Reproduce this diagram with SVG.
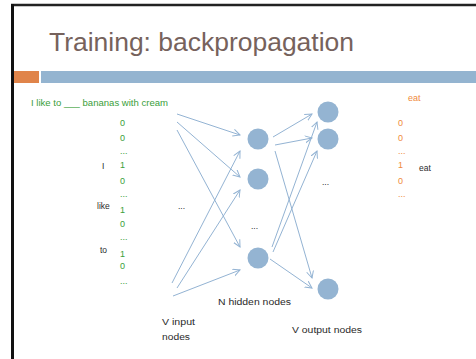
<svg xmlns="http://www.w3.org/2000/svg" width="476" height="359" viewBox="0 0 476 359">
<style>
text{font-family:"Liberation Sans","DejaVu Sans",sans-serif}
.g{fill:#3a9e3a;font-size:9px}
.o{fill:#f08a3c;font-size:9px}
.k{fill:#2a2a2a;font-size:8.5px}
.n{fill:#94b4d2}
.c{stroke:#93b3d3;stroke-width:1;fill:none;marker-end:url(#ah)}
</style>
<defs>
<marker id="ah" markerUnits="userSpaceOnUse" markerWidth="10" markerHeight="10" refX="7" refY="4" orient="auto">
<path d="M0,0.5 L7,4 L0,7.5" fill="none" stroke="#93b3d3" stroke-width="1"/>
</marker>
</defs>
<rect width="476" height="359" fill="#fff"/>
<line x1="11" y1="5" x2="476" y2="5" stroke="#222" stroke-width="2.5"/>
<line x1="12.5" y1="4" x2="12.5" y2="359" stroke="#111" stroke-width="3"/>
<g id="title">
<text x="49" y="51" font-size="25" fill="#76625c" textLength="305" lengthAdjust="spacingAndGlyphs">Training: backpropagation</text>
</g>
<rect x="14" y="71" width="25" height="12" fill="#e0844a"/>
<rect x="41" y="71" width="435" height="12" fill="#94b4d0"/>
<g id="sentence"><text class="g" x="31" y="106" font-size="8.5" textLength="137" lengthAdjust="spacingAndGlyphs">I like to ___ bananas with cream</text></g>
<g id="input-vector">
<text class="g" x="120" y="126">0</text>
<text class="g" x="120" y="141">0</text>
<text class="g" x="120" y="154">...</text>
<text class="g" x="120" y="168">1</text>
<text class="g" x="120" y="184">0</text>
<text class="g" x="120" y="197">...</text>
<text class="g" x="120" y="213">1</text>
<text class="g" x="120" y="227">0</text>
<text class="g" x="120" y="240">...</text>
<text class="g" x="120" y="257">1</text>
<text class="g" x="120" y="269">0</text>
<text class="g" x="120" y="284">...</text>
<text class="k" x="102" y="169">I</text>
<text class="k" x="97" y="209">like</text>
<text class="k" x="100" y="253">to</text>
<text class="k" x="178" y="209">...</text>
</g>
<g id="connectors">
<line class="c" x1="177" y1="114" x2="240" y2="135"/>
<line class="c" x1="177" y1="122" x2="240" y2="177"/>
<line class="c" x1="177" y1="130" x2="240" y2="247"/>
<line class="c" x1="172" y1="283" x2="240" y2="151"/>
<line class="c" x1="177" y1="288" x2="240" y2="190"/>
<line class="c" x1="173" y1="296" x2="240" y2="270"/>
<line class="c" x1="273" y1="137" x2="312" y2="114"/>
<line class="c" x1="275" y1="145" x2="312" y2="138"/>
<line class="c" x1="275" y1="151" x2="312" y2="278"/>
<line class="c" x1="272" y1="247" x2="317" y2="122"/>
<line class="c" x1="273" y1="252" x2="317" y2="151"/>
<line class="c" x1="270" y1="259" x2="312" y2="288"/>
</g>
<g id="hidden1"><circle class="n" cx="258" cy="139" r="10.5"/></g>
<g id="hidden2"><circle class="n" cx="258" cy="179" r="10.5"/></g>
<g id="hidden-dots"><text class="k" x="251" y="229">...</text></g>
<g id="hidden3"><circle class="n" cx="258" cy="258" r="10.5"/></g>
<g id="output1"><circle class="n" cx="328" cy="112" r="10.5"/></g>
<g id="output2"><circle class="n" cx="328" cy="139" r="10.5"/></g>
<g id="output-dots"><text class="k" x="322" y="185">...</text></g>
<g id="output4"><circle class="n" cx="328" cy="289" r="10.5"/></g>
<g id="labels">
<text class="k" x="218" y="305" textLength="73" lengthAdjust="spacingAndGlyphs">N hidden nodes</text>
<text class="k" x="162" y="325" textLength="33" lengthAdjust="spacingAndGlyphs">V input</text>
<text class="k" x="162" y="340" textLength="28" lengthAdjust="spacingAndGlyphs">nodes</text>
<text class="k" x="292" y="333" textLength="70" lengthAdjust="spacingAndGlyphs">V output nodes</text>
</g>
<g id="output-vector">
<text class="o" x="408" y="101">eat</text>
<text class="o" x="398" y="126">0</text>
<text class="o" x="398" y="141">0</text>
<text class="o" x="398" y="154">...</text>
<text class="o" x="398" y="168">1</text>
<text class="o" x="398" y="184">0</text>
<text class="o" x="398" y="197">...</text>
<text class="k" x="419" y="171">eat</text>
</g>
</svg>
